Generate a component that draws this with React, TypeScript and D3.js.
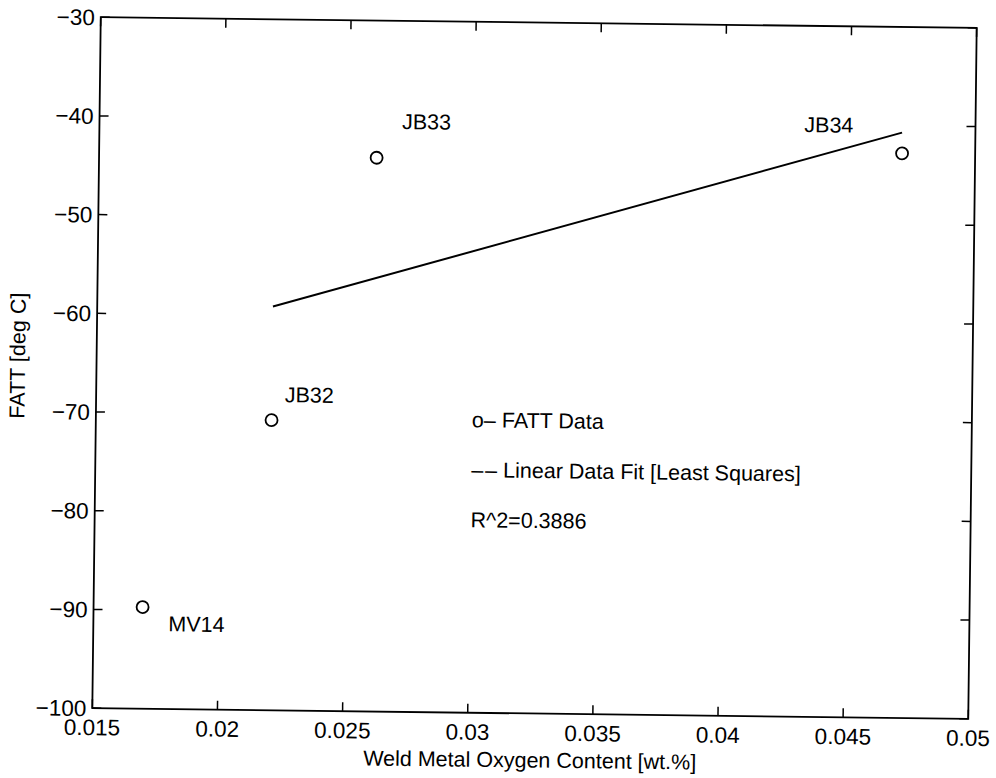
import React from "react";
import * as d3 from "d3";

const sampleNames = ["MV14", "JB32", "JB33", "JB34"];
const oxygenContent = [0.01696, 0.02202, 0.02609, 0.04708];
const fattValues = [-89.7, -70.6, -43.9, -42.8];
const fitX = [0.02202, 0.04707];
const fitY = [-59.1, -40.7];
const xTickValues = [0.015, 0.02, 0.025, 0.03, 0.035, 0.04, 0.045, 0.05];
const xTickLabels = ["0.015", "0.02", "0.025", "0.03", "0.035", "0.04", "0.045", "0.05"];
const yTickValues = [-100, -90, -80, -70, -60, -50, -40, -30];
const yTickLabels = ["−100", "−90", "−80", "−70", "−60", "−50", "−40", "−30"];
const legendMarkers = ["o–", "––", ""];
const legendTexts = ["FATT Data", "Linear Data Fit [Least Squares]", "R^2=0.3886"];
const xLabel = "Weld Metal Oxygen Content [wt.%]";
const yLabel = "FATT [deg C]";

const W = 996;
const H = 778;
const left = 96.5;
const right = 972.5;
const top = 22.5;
const bottom = 713.5;
const cx = (left + right) / 2;
const cy = (top + bottom) / 2;
const tilt = 0.7;
const FONT = "'Liberation Sans', Arial, Helvetica, sans-serif";
const FS = 21.5;
const TFS = 22.5;
const TICK = 9;

const labelOffsets: Record<string, [number, number, string]> = {
  MV14: [26, 24, "start"],
  JB32: [13, -18, "start"],
  JB33: [25, -29, "start"],
  JB34: [-49, -20, "end"],
};

export default function App() {
  const x = d3.scaleLinear().domain([0.015, 0.05]).range([left, right]);
  const y = d3.scaleLinear().domain([-100, -30]).range([bottom, top]);
  const line = d3
    .line<number>()
    .x((_, i) => x(fitX[i]))
    .y((d) => y(d));

  return (
    <svg
      width={W}
      height={H}
      style={{ position: "absolute", left: 0, top: 0, background: "#fff" }}
      fontFamily={FONT}
    >
      <rect x={0} y={0} width={W} height={H} fill="#fff" />
      <g transform={`rotate(${tilt}, ${cx}, ${cy})`}>
        <rect
          x={left}
          y={top}
          width={right - left}
          height={bottom - top}
          fill="none"
          stroke="#000"
          strokeWidth={1.8}
        />
        {xTickValues.map((v, i) => (
          <g key={"xt" + i}>
            <line x1={x(v)} x2={x(v)} y1={bottom} y2={bottom - TICK} stroke="#000" strokeWidth={1.5} />
            <line x1={x(v)} x2={x(v)} y1={top} y2={top + TICK} stroke="#000" strokeWidth={1.5} />
            <text x={x(v)} y={bottom + 27} fontSize={TFS} textAnchor="middle" fill="#000">
              {xTickLabels[i]}
            </text>
          </g>
        ))}
        {yTickValues.map((v, i) => (
          <g key={"yt" + i}>
            <line x1={left} x2={left + TICK} y1={y(v)} y2={y(v)} stroke="#000" strokeWidth={1.5} />
            <line x1={right} x2={right - TICK} y1={y(v)} y2={y(v)} stroke="#000" strokeWidth={1.5} />
            <text x={left - 6} y={y(v) + 8} fontSize={TFS} textAnchor="end" fill="#000">
              {yTickLabels[i]}
            </text>
          </g>
        ))}
        <path d={line(fitY) || ""} fill="none" stroke="#000" strokeWidth={2} />
        {sampleNames.map((name, i) => {
          const px = x(oxygenContent[i]);
          const py = y(fattValues[i]);
          const [dx, dy, anchor] = labelOffsets[name];
          return (
            <g key={name}>
              <circle cx={px} cy={py} r={6} fill="none" stroke="#000" strokeWidth={1.8} />
              <text x={px + dx} y={py + dy} fontSize={FS} textAnchor={anchor as any} fill="#000">
                {name}
              </text>
            </g>
          );
        })}
        {legendTexts.map((t, i) => (
          <text key={"lg" + i} x={472.5} y={428 + i * 50} fontSize={FS} fill="#000">
            {legendMarkers[i] ? (
              <tspan letterSpacing={i === 1 ? 2 : 0}>{legendMarkers[i]}</tspan>
            ) : null}
            {legendMarkers[i] ? <tspan dx={i === 1 ? 4 : 6}>{t}</tspan> : t}
          </text>
        ))}
        <text x={cx} y={bottom + 54} fontSize={FS} textAnchor="middle" fill="#000">
          {xLabel}
        </text>
        <text
          transform={`translate(${25}, ${cy - 6}) rotate(-90)`}
          fontSize={FS}
          textAnchor="middle"
          fill="#000"
        >
          {yLabel}
        </text>
      </g>
    </svg>
  );
}
